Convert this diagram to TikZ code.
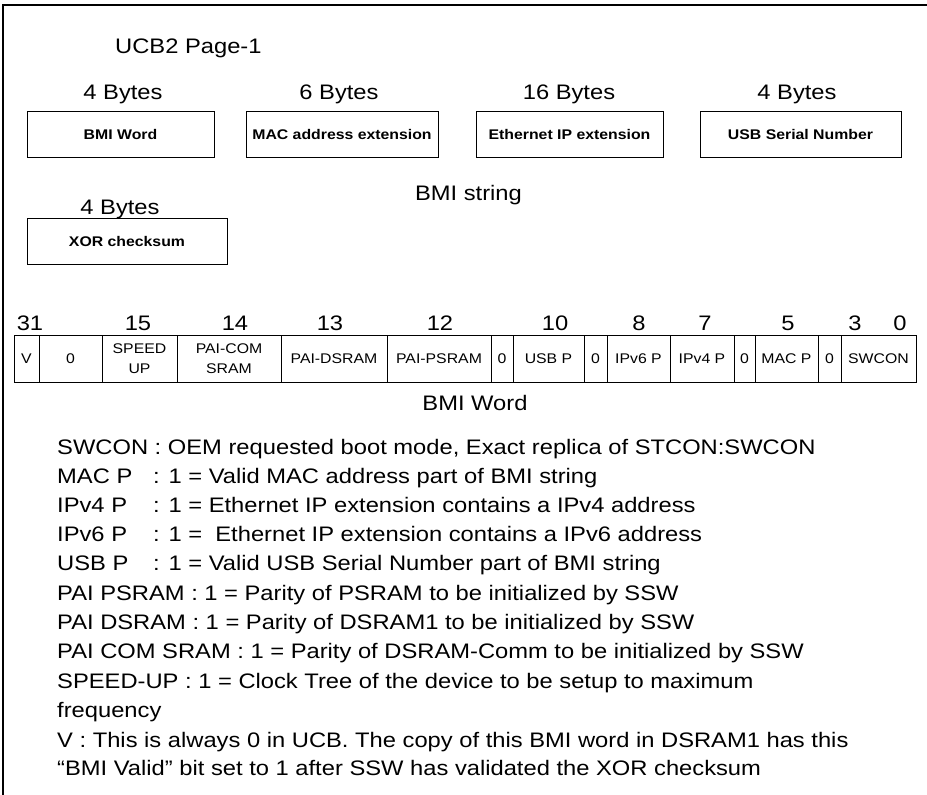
\documentclass[tikz,border=0pt]{standalone}
\usepackage{fontspec}
\setmainfont{Liberation Sans}[FakeStretch=1.13]
\usetikzlibrary{positioning}

\begin{document}
\begin{tikzpicture}[
  x=1pt, y=-1pt,
  field/.style={draw, line width=0.9pt, minimum height=46pt, inner sep=2pt,
                font=\fontsize{14}{16}\selectfont\bfseries},
  bit/.style={draw, line width=0.8pt, minimum height=47pt, inner sep=1pt, outer sep=0pt,
              align=center, font=\fontsize{14}{20}\selectfont},
  big/.style={inner sep=0pt, anchor=base, font=\fontsize{21}{25}\selectfont},
  desc/.style={big, anchor=base west},
]
  \useasboundingbox (0,0) rectangle (927,795);
  \draw[line width=1.4pt] (3,795) -- (3,5) -- (927,5);

  % BMI string
  \node[desc] (title) at (115,53) {UCB2 Page-1};
  \node[field, minimum width=187pt] (bmiword) at (120.5,134) {BMI Word};
  \node[field, minimum width=192pt] (mac) at (342,134) {MAC address extension};
  \node[field, minimum width=187pt] (eth) at (569.5,134) {Ethernet IP extension};
  \node[field, minimum width=201pt] (usb) at (800.5,134) {USB Serial Number};
  \node[field, minimum width=200pt] (xor) at (127,241) {XOR checksum};
  \node[big] (sz1) at (123,99) {4 Bytes};
  \node[big] (sz2) at (339,99) {6 Bytes};
  \node[big] (sz3) at (569,99) {16 Bytes};
  \node[big] (sz4) at (797,99) {4 Bytes};
  \node[big] (sz5) at (120,214) {4 Bytes};
  \node[big] (strlabel) at (468.5,200) {BMI string};

  % BMI word layout
  \node[bit, minimum width=25pt] (bv) at (26.5,358.5) {V};
  \node[bit, minimum width=63pt, right=0pt of bv] (bres1) {0};
  \node[bit, minimum width=75pt, right=0pt of bres1] (bspeed) {SPEED\\UP};
  \node[bit, minimum width=104pt, right=0pt of bspeed] (bcom) {PAI-COM\\SRAM};
  \node[bit, minimum width=106pt, right=0pt of bcom] (bdsram) {PAI-DSRAM};
  \node[bit, minimum width=104pt, right=0pt of bdsram] (bpsram) {PAI-PSRAM};
  \node[bit, minimum width=22pt, right=0pt of bpsram] (bres2) {0};
  \node[bit, minimum width=71pt, right=0pt of bres2] (busb) {USB P};
  \node[bit, minimum width=23pt, right=0pt of busb] (bres3) {0};
  \node[bit, minimum width=63pt, right=0pt of bres3] (bipsix) {IPv6 P};
  \node[bit, minimum width=64pt, right=0pt of bipsix] (bipfour) {IPv4 P};
  \node[bit, minimum width=21pt, right=0pt of bipfour] (bres4) {0};
  \node[bit, minimum width=63pt, right=0pt of bres4] (bmac) {MAC P};
  \node[bit, minimum width=23pt, right=0pt of bmac] (bres5) {0};
  \node[bit, minimum width=75pt, right=0pt of bres5] (bswcon) {SWCON};

  \node[big] (n31) at (30,330) {31};
  \node[big] (n15) at (138,330) {15};
  \node[big] (n14) at (235,330) {14};
  \node[big] (n13) at (330,330) {13};
  \node[big] (n12) at (440,330) {12};
  \node[big] (n10) at (555,330) {10};
  \node[big] (n8) at (639,330) {8};
  \node[big] (n7) at (705,330) {7};
  \node[big] (n5) at (788,330) {5};
  \node[big] (n3) at (855,330) {3};
  \node[big] (n0) at (900,330) {0};
  \node[big] (wordlabel) at (475,410) {BMI Word};

  % field descriptions
  \node[desc] (d1) at (57,454) {SWCON : OEM requested boot mode, Exact replica of STCON:SWCON};
  \node[desc] (d2) at (57,483) {\makebox[96pt][l]{MAC P}: 1 = Valid MAC address part of BMI string};
  \node[desc] (d3) at (57,512) {\makebox[96pt][l]{IPv4 P}: 1 = Ethernet IP extension contains a IPv4 address};
  \node[desc] (d4) at (57,541) {\makebox[96pt][l]{IPv6 P}: 1 = \ Ethernet IP extension contains a IPv6 address};
  \node[desc] (d5) at (57,570) {\makebox[96pt][l]{USB P}: 1 = Valid USB Serial Number part of BMI string};
  \node[desc] (d6) at (57,600) {PAI PSRAM : 1 = Parity of PSRAM to be initialized by SSW};
  \node[desc] (d7) at (57,629) {PAI DSRAM : 1 = Parity of DSRAM1 to be initialized by SSW};
  \node[desc] (d8) at (57,658) {PAI COM SRAM : 1 = Parity of DSRAM-Comm to be initialized by SSW};
  \node[desc] (d9) at (57,688) {SPEED-UP : 1 = Clock Tree of the device to be setup to maximum};
  \node[desc] (d10) at (57,717) {frequency};
  \node[desc] (d11) at (57,747) {V : This is always 0 in UCB. The copy of this BMI word in DSRAM1 has this};
  \node[desc] (d12) at (57,775) {“BMI Valid” bit set to 1 after SSW has validated the XOR checksum};
\end{tikzpicture}
\end{document}
